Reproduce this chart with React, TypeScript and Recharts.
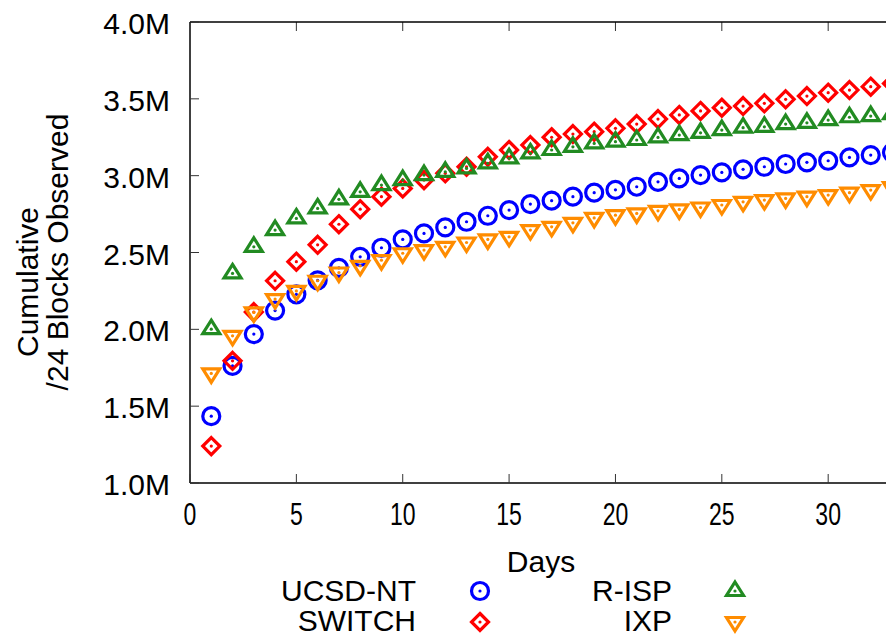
import React from "react";
import { ScatterChart, Scatter, XAxis, YAxis, Legend } from "recharts";

// days since start, cumulative /24 blocks in millions
const days = [
  1, 2, 3, 4, 5, 6, 7, 8, 9, 10, 11, 12, 13, 14, 15, 16, 17, 18, 19, 20, 21,
  22, 23, 24, 25, 26, 27, 28, 29, 30, 31, 32, 33,
];
const ucsdNt = [
  1.435, 1.762, 1.969, 2.122, 2.228, 2.318, 2.4, 2.472, 2.531, 2.585, 2.624,
  2.663, 2.7, 2.739, 2.776, 2.815, 2.837, 2.863, 2.889, 2.908, 2.928, 2.96,
  2.982, 3.004, 3.021, 3.041, 3.058, 3.076, 3.087, 3.097, 3.119, 3.134, 3.15,
];
const switchNet = [
  1.24, 1.795, 2.112, 2.316, 2.44, 2.55, 2.684, 2.782, 2.863, 2.917, 2.971,
  3.015, 3.058, 3.123, 3.167, 3.199, 3.25, 3.271, 3.286, 3.308, 3.336, 3.368,
  3.395, 3.421, 3.442, 3.453, 3.471, 3.497, 3.518, 3.54, 3.557, 3.579, 3.6,
];
const rIsp = [
  2.001, 2.364, 2.537, 2.646, 2.722, 2.787, 2.846, 2.895, 2.939, 2.971, 3.004,
  3.025, 3.047, 3.08, 3.113, 3.145, 3.167, 3.188, 3.21, 3.221, 3.232, 3.249,
  3.264, 3.279, 3.297, 3.312, 3.318, 3.336, 3.344, 3.362, 3.38, 3.388, 3.4,
];
const ixp = [
  1.713, 1.958, 2.11, 2.197, 2.25, 2.316, 2.37, 2.413, 2.45, 2.495, 2.516,
  2.537, 2.565, 2.585, 2.602, 2.646, 2.667, 2.693, 2.725, 2.743, 2.754, 2.771,
  2.78, 2.793, 2.809, 2.83, 2.841, 2.852, 2.863, 2.874, 2.889, 2.906, 2.925,
];
const xTicks = [0, 5, 10, 15, 20, 25, 30];
const yTicks = [1, 1.5, 2, 2.5, 3, 3.5, 4];

const FONT = "'Liberation Sans', Arial, Helvetica, sans-serif";

// layout
const CHART_W = 900;
const CHART_H = 636;
const MARGIN = { top: 22, right: 7, bottom: 0, left: 0 };
const LEFT_AXIS_W = 190;
const RIGHT_AXIS_W = 1;
const PLOT_TOP = MARGIN.top;
const PLOT_RIGHT = CHART_W - MARGIN.right - RIGHT_AXIS_W;

const series = [
  { name: "UCSD-NT", values: ucsdNt, color: "#0000ff", kind: "circle" },
  { name: "SWITCH", values: switchNet, color: "#ff0000", kind: "diamond" },
  { name: "R-ISP", values: rIsp, color: "#228b22", kind: "up" },
  { name: "IXP", values: ixp, color: "#ff8c00", kind: "down" },
];

function Marker({ kind, cx, cy, color }: any) {
  if (cx == null || cy == null) return null;
  let outline;
  if (kind === "circle") {
    outline = <circle cx={cx} cy={cy} r={8.5} />;
  } else if (kind === "diamond") {
    outline = (
      <polygon
        points={`${cx},${cy - 8.5} ${cx + 8.5},${cy} ${cx},${cy + 8.5} ${cx - 8.5},${cy}`}
      />
    );
  } else if (kind === "up") {
    outline = (
      <polygon points={`${cx},${cy - 9} ${cx + 8.5},${cy + 4.5} ${cx - 8.5},${cy + 4.5}`} />
    );
  } else {
    outline = (
      <polygon points={`${cx},${cy + 9} ${cx + 8.5},${cy - 4.5} ${cx - 8.5},${cy - 4.5}`} />
    );
  }
  return (
    <g>
      <g fill="none" stroke={color} strokeWidth={3.2} strokeLinejoin="miter">
        {outline}
      </g>
      <circle cx={cx} cy={cy} r={1.6} fill={color} />
    </g>
  );
}

// bottom tick: inward tick, mirrored tick on the top border, narrow label
const BottomTick = ({ x, y, payload }: any) => (
  <g>
    <line x1={x} x2={x} y1={y} y2={y - 9} stroke="#333" strokeWidth={1} />
    {payload.value !== 0 && (
      <line x1={x} x2={x} y1={PLOT_TOP} y2={PLOT_TOP + 9} stroke="#333" strokeWidth={1} />
    )}
    <text
      x={x}
      y={y + 42}
      textAnchor="middle"
      fontSize={32}
      fontFamily={FONT}
      fill="#000"
      transform={`translate(${x} 0) scale(0.72 1) translate(${-x} 0)`}
    >
      {payload.value}
    </text>
  </g>
);

// left tick; the top one also carries the top border of the frame
const LeftTick = ({ x, y, payload }: any) => (
  <g>
    {payload.value === yTicks[yTicks.length - 1] && (
      <line x1={x} x2={PLOT_RIGHT} y1={y} y2={y} stroke="#000" strokeWidth={1.5} />
    )}
    <line x1={x} x2={x + 9} y1={y} y2={y} stroke="#333" strokeWidth={1} />
    <text x={x - 20} y={y + 12} textAnchor="end" fontSize={30} fontFamily={FONT} fill="#000">
      {payload.value.toFixed(1)}M
    </text>
  </g>
);

const RightTick = ({ x, y }: any) => (
  <g>
    <line x1={x} x2={x - 9} y1={y} y2={y} stroke="#333" strokeWidth={1} />
  </g>
);

const DaysLabel = () => (
  <text x={541} y={572} textAnchor="middle" fontSize={30} fontFamily={FONT} fill="#000">
    Days
  </text>
);

const BlocksLabel = () => (
  <g fontSize={30} fontFamily={FONT} fill="#000" textAnchor="middle">
    <text transform="translate(38 282) rotate(-90)">Cumulative</text>
    <text transform="translate(68 252) rotate(-90)">/24 Blocks Observed</text>
  </g>
);

const LegendBox = () => (
  <svg width={886} height={76} style={{ display: "block" }}>
    {series.map((s, i) => {
      const col = Math.floor(i / 2);
      const row = i % 2;
      const textX = col === 0 ? 416 : 672;
      const markX = col === 0 ? 480 : 735;
      return (
        <g key={s.name}>
          <text
            x={textX}
            y={41 + row * 30}
            textAnchor="end"
            fontSize={30}
            fontFamily={FONT}
            fill="#000"
          >
            {s.name}
          </text>
          <Marker kind={s.kind} cx={markX} cy={31 + row * 31} color={s.color} />
        </g>
      );
    })}
  </svg>
);

export default function App() {
  return (
    <div
      style={{
        position: "absolute",
        left: 0,
        top: 0,
        width: 886,
        height: 636,
        overflow: "hidden",
      }}
    >
      <ScatterChart width={CHART_W} height={CHART_H} margin={MARGIN}>
        <XAxis
          dataKey="day"
          type="number"
          domain={[0, 33]}
          ticks={xTicks}
          height={153}
          tickSize={0}
          tickMargin={0}
          tick={<BottomTick />}
          axisLine={{ stroke: "#000", strokeWidth: 1.5 }}
          tickLine={false}
          label={<DaysLabel />}
        />
        <YAxis
          dataKey="v"
          type="number"
          domain={[1, 4]}
          ticks={yTicks}
          width={LEFT_AXIS_W}
          tickSize={0}
          tickMargin={0}
          tick={<LeftTick />}
          axisLine={{ stroke: "#000", strokeWidth: 1.5 }}
          tickLine={false}
          label={<BlocksLabel />}
        />
        <YAxis
          yAxisId="right"
          orientation="right"
          dataKey="v"
          type="number"
          domain={[1, 4]}
          ticks={yTicks}
          width={RIGHT_AXIS_W}
          tickSize={0}
          tickMargin={0}
          tick={<RightTick />}
          axisLine={{ stroke: "#000", strokeWidth: 1.5 }}
          tickLine={false}
        />
        {series.map((s) => (
          <Scatter
            key={s.name}
            name={s.name}
            data={days.map((d, i) => ({ day: d, v: s.values[i] }))}
            fill={s.color}
            isAnimationActive={false}
            shape={(p: any) => <Marker kind={s.kind} cx={p.cx} cy={p.cy} color={s.color} />}
          />
        ))}
        <Legend
          layout="horizontal"
          verticalAlign="middle"
          align="center"
          wrapperStyle={{ left: 0, top: 560, width: 886, height: 76 }}
          content={<LegendBox />}
        />
      </ScatterChart>
    </div>
  );
}
